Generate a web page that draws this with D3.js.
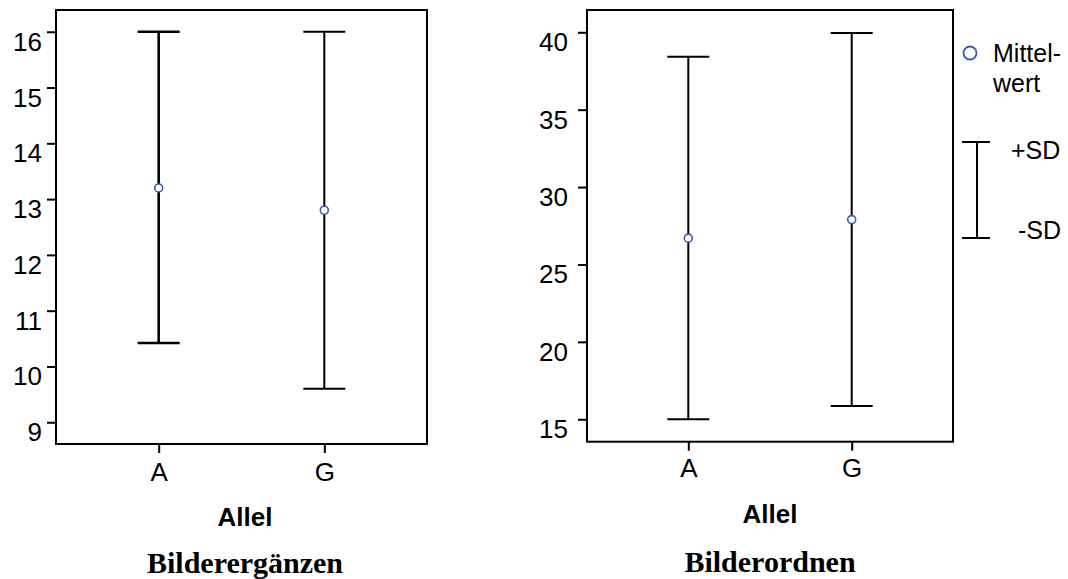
<!DOCTYPE html>
<html>
<head>
<meta charset="utf-8">
<script src="https://cdn.jsdelivr.net/npm/d3@7"></script>
<style>
  body { margin: 0; background: #fff; }
  text { font-family: "Liberation Sans", Arial, sans-serif; fill: #000; }
</style>
</head>
<body>
<div id="chart"></div>
<script>
// categories
const alleles = ["A", "G"];

// Bilderergänzen: mean +/- SD
const ergMean = [13.2, 12.8];
const ergLow = [10.42, 9.6];
const ergHigh = [16.0, 16.0];
const ergTicks = [9, 10, 11, 12, 13, 14, 15, 16];

// Bilderordnen: mean +/- SD
const ordMean = [26.7, 27.9];
const ordLow = [15.0, 15.86];
const ordHigh = [38.42, 39.95];
const ordTicks = [15, 20, 25, 30, 35, 40];

const blue = "#3b58b3";

const svg = d3.select("#chart")
    .append("svg")
    .attr("width", 1068)
    .attr("height", 579);

function drawPanel(p) {
    const x = d3.scalePoint()
        .domain(alleles)
        .range([p.left, p.right])
        .padding(0.62);

    const y = d3.scaleLinear()
        .domain(p.yDomain)
        .range([p.bottom, p.top]);

    // frame
    svg.append("rect")
        .attr("x", p.left)
        .attr("y", p.top)
        .attr("width", p.right - p.left)
        .attr("height", p.bottom - p.top)
        .attr("fill", "none")
        .attr("stroke", "#000")
        .attr("stroke-width", 2);

    // y axis
    const yAxis = svg.append("g")
        .attr("transform", `translate(${p.left}, 0)`)
        .call(d3.axisLeft(y).tickValues(p.ticks).tickSize(9).tickPadding(p.labelGap));
    yAxis.select(".domain").remove();
    yAxis.selectAll("line").attr("stroke", "#000").attr("stroke-width", 2);
    yAxis.selectAll("text")
        .style("font-size", "26px")
        .attr("font-family", null)
        .attr("dy", "0.71em");

    // x axis
    const xAxis = svg.append("g")
        .attr("transform", `translate(0, ${p.bottom})`)
        .call(d3.axisBottom(x).tickSize(9).tickPadding(p.xLabelGap));
    xAxis.select(".domain").remove();
    xAxis.selectAll("line").attr("stroke", "#000").attr("stroke-width", 2);
    xAxis.selectAll("text")
        .style("font-size", "26px")
        .attr("font-family", null);

    // error bars
    const rows = alleles.map((a, i) => ({ a, mean: p.mean[i], lo: p.low[i], hi: p.high[i], w: p.widths[i] }));
    const bars = svg.append("g").selectAll("g")
        .data(rows)
        .enter()
        .append("g")
        .attr("stroke", "#000");
    bars.append("line")
        .attr("x1", d => x(d.a)).attr("x2", d => x(d.a))
        .attr("y1", d => y(d.hi)).attr("y2", d => y(d.lo))
        .attr("stroke-width", d => d.w);
    bars.append("line")
        .attr("x1", d => x(d.a) - 21).attr("x2", d => x(d.a) + 21)
        .attr("y1", d => y(d.hi)).attr("y2", d => y(d.hi))
        .attr("stroke-width", d => d.w);
    bars.append("line")
        .attr("x1", d => x(d.a) - 21).attr("x2", d => x(d.a) + 21)
        .attr("y1", d => y(d.lo)).attr("y2", d => y(d.lo))
        .attr("stroke-width", d => d.w);

    // means
    svg.append("g").selectAll("circle")
        .data(rows)
        .enter()
        .append("circle")
        .attr("cx", d => x(d.a))
        .attr("cy", d => y(d.mean))
        .attr("r", 4)
        .attr("fill", "#fff")
        .attr("stroke", blue)
        .attr("stroke-width", 1.6);

    // axis title
    svg.append("text")
        .attr("x", p.titleX)
        .attr("y", p.allelY)
        .attr("text-anchor", "middle")
        .style("font-size", "26px")
        .style("font-weight", "bold")
        .text("Allel");

    // panel caption
    svg.append("text")
        .attr("x", p.titleX)
        .attr("y", p.captionY)
        .attr("text-anchor", "middle")
        .style("font-family", "'Liberation Serif', 'Times New Roman', serif")
        .style("font-size", "30px")
        .style("font-weight", "bold")
        .text(p.caption);
}

drawPanel({
    left: 56, right: 427, top: 10, bottom: 444,
    yDomain: [8.61, 16.39], ticks: ergTicks,
    mean: ergMean, low: ergLow, high: ergHigh, widths: [2.6, 2],
    labelGap: 5, xLabelGap: 10,
    titleX: 245, allelY: 526, captionY: 573,
    caption: "Bilderergänzen"
});

drawPanel({
    left: 587, right: 953, top: 10, bottom: 441.7,
    yDomain: [13.55, 41.44], ticks: ordTicks,
    mean: ordMean, low: ordLow, high: ordHigh, widths: [2, 2],
    labelGap: 10, xLabelGap: 8,
    titleX: 770, allelY: 523, captionY: 572,
    caption: "Bilderordnen"
});

// legend
const legend = svg.append("g");
legend.append("circle")
    .attr("cx", 970).attr("cy", 53)
    .attr("r", 6.5)
    .attr("fill", "#fff")
    .attr("stroke", blue)
    .attr("stroke-width", 1.8);
legend.append("text").attr("x", 993).attr("y", 62).style("font-size", "25px").text("Mittel-");
legend.append("text").attr("x", 993).attr("y", 92).style("font-size", "25px").text("wert");

legend.append("line").attr("x1", 977).attr("x2", 977).attr("y1", 142).attr("y2", 238)
    .attr("stroke", "#000").attr("stroke-width", 2);
legend.append("line").attr("x1", 962).attr("x2", 990).attr("y1", 142).attr("y2", 142)
    .attr("stroke", "#000").attr("stroke-width", 2);
legend.append("line").attr("x1", 962).attr("x2", 990).attr("y1", 238).attr("y2", 238)
    .attr("stroke", "#000").attr("stroke-width", 2);
legend.append("text").attr("x", 1011).attr("y", 159).style("font-size", "25px").text("+SD");
legend.append("text").attr("x", 1018).attr("y", 239).style("font-size", "25px").text("-SD");
</script>
</body>
</html>
